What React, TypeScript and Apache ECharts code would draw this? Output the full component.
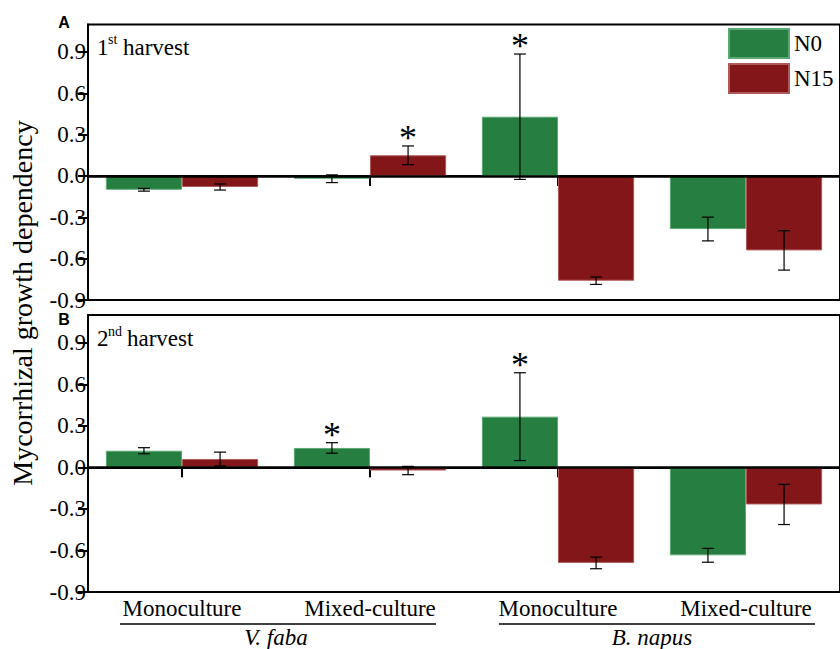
import React, { useEffect, useRef } from "react";
import * as echarts from "echarts";

const categories = ["Monoculture", "Mixed-culture", "Monoculture", "Mixed-culture"];
const species = ["V. faba", "B. napus"];
const yTicks = [-0.9, -0.6, -0.3, 0, 0.3, 0.6, 0.9];
const seriesNames = ["N0", "N15"];

// Panel A: 1st harvest
const A_N0 = [-0.1, -0.02, 0.43, -0.385];
const A_N0_err = [0.01, 0.028, 0.455, 0.086];
const A_N0_sig = [0, 0, 1, 0];
const A_N15 = [-0.08, 0.15, -0.76, -0.54];
const A_N15_err = [0.022, 0.068, 0.027, 0.143];
const A_N15_sig = [0, 1, 0, 0];

// Panel B: 2nd harvest
const B_N0 = [0.12, 0.14, 0.366, -0.635];
const B_N0_err = [0.022, 0.038, 0.317, 0.05];
const B_N0_sig = [0, 1, 1, 0];
const B_N15 = [0.06, -0.023, -0.69, -0.268];
const B_N15_err = [0.05, 0.03, 0.042, 0.145];
const B_N15_sig = [0, 0, 0, 0];

const GREEN = "#267f40";
const RED = "#821619";
const SERIF = "Liberation Serif";
const GAP = 0.19;

function errData(v0: number[], e0: number[], s0: number[], v1: number[], e1: number[], s1: number[]) {
  const out: number[][] = [];
  v0.forEach((v, i) => out.push([i, v, e0[i], s0[i], 0]));
  v1.forEach((v, i) => out.push([i, v, e1[i], s1[i], 1]));
  return out;
}

function renderErr(params: any, api: any) {
  const cat = api.value(0);
  const v = api.value(1);
  const e = api.value(2);
  const sig = api.value(3);
  const s = api.value(4);
  const c = api.coord([cat, v]);
  const band = api.size([1, 0])[0];
  const bw = (band * (1 - GAP)) / 2;
  const x = c[0] + (s === 0 ? -bw / 2 : bw / 2);
  const top = api.coord([cat, v + e])[1];
  const bot = api.coord([cat, v - e])[1];
  const cap = 6;
  const ls = { stroke: "#000", lineWidth: 1.2 };
  const children: any[] = [
    { type: "line", shape: { x1: x, y1: top, x2: x, y2: bot }, style: ls },
    { type: "line", shape: { x1: x - cap, y1: top, x2: x + cap, y2: top }, style: ls },
    { type: "line", shape: { x1: x - cap, y1: bot, x2: x + cap, y2: bot }, style: ls },
  ];
  if (sig) {
    children.push({
      type: "text",
      x: x,
      y: top - 26,
      style: {
        text: "*",
        fill: "#000",
        font: `36px "${SERIF}"`,
        align: "center",
        verticalAlign: "top",
      },
    });
  }
  return { type: "group", children };
}

function yAxisCfg(gridIndex: number) {
  return {
    type: "value",
    gridIndex,
    min: -0.9,
    max: 1.1,
    interval: 0.3,
    splitLine: { show: false },
    axisLine: { show: true, lineStyle: { color: "#000", width: 2 } },
    axisTick: { show: true, length: 10, lineStyle: { color: "#000", width: 2 }, customValues: yTicks },
    axisLabel: {
      formatter: (v: number) => (v > 1 ? "" : `{t|${v.toFixed(1)}}`),
      margin: 2,
      rich: {
        t: { color: "#000", fontSize: 23, fontFamily: SERIF },
      },
    },
  };
}

function barSeries(name: string, color: string, border: string, data: number[], idx: number, withLine: boolean) {
  const s: any = {
    name,
    type: "bar",
    xAxisIndex: idx,
    yAxisIndex: idx,
    data,
    barGap: "0%",
    barCategoryGap: `${GAP * 100}%`,
    itemStyle: { color, borderColor: border, borderWidth: 1 },
  };
  if (withLine) {
    s.markLine = {
      silent: true,
      symbol: ["none", "none"],
      label: { show: false },
      lineStyle: { color: "#000", width: 2.5, type: "solid" },
      data: [{ yAxis: 0 }],
    };
  }
  return s;
}

export default function App() {
  const ref = useRef<HTMLDivElement>(null);
  useEffect(() => {
    if (!ref.current) return;
    const chart = echarts.init(ref.current, null, { renderer: "svg" });
    const txt = (text: string, x: number, y: number, size: number, extra: any = {}) => ({
      type: "text",
      x,
      y,
      style: { text, fill: "#000", font: `${size}px "${SERIF}"`, verticalAlign: "middle", ...extra },
    });
    chart.setOption({
      animation: false,
      backgroundColor: "#fff",
      grid: [
        { left: 88, top: 24.4, width: 756, height: 275.6, show: true, borderColor: "#000", borderWidth: 2, backgroundColor: "transparent" },
        { left: 88, top: 315, width: 756, height: 279, show: true, borderColor: "#000", borderWidth: 2, backgroundColor: "transparent" },
      ],
      legend: {
        data: seriesNames,
        orient: "vertical",
        left: 728,
        top: 28,
        padding: 0,
        itemWidth: 60,
        itemHeight: 29,
        itemGap: 4,
        icon: "rect",
        textStyle: { color: "#000", fontSize: 23, fontFamily: SERIF },
      },
      xAxis: [
        {
          type: "category",
          gridIndex: 0,
          data: categories,
          axisLine: { lineStyle: { color: "#000", width: 2 } },
          axisTick: { show: true, alignWithLabel: true, length: 10, lineStyle: { color: "#000", width: 2 } },
          axisLabel: { show: false },
        },
        {
          type: "category",
          gridIndex: 1,
          data: categories,
          axisLine: { lineStyle: { color: "#000", width: 2 } },
          axisTick: { show: true, alignWithLabel: true, length: 10, lineStyle: { color: "#000", width: 2 } },
          axisLabel: { color: "#000", fontSize: 23, fontFamily: SERIF, margin: 5, interval: 0 },
        },
        {
          type: "category",
          gridIndex: 1,
          data: species,
          position: "bottom",
          offset: 26,
          axisLine: { show: false },
          axisTick: { show: false },
          axisLabel: { color: "#000", fontSize: 23, fontFamily: SERIF, fontStyle: "italic", margin: 8, interval: 0 },
        },
      ],
      yAxis: [yAxisCfg(0), yAxisCfg(1)],
      series: [
        barSeries("N0", GREEN, "#5aa874", A_N0, 0, true),
        barSeries("N15", RED, "#b0595b", A_N15, 0, false),
        barSeries("N0", GREEN, "#5aa874", B_N0, 1, true),
        barSeries("N15", RED, "#b0595b", B_N15, 1, false),
        {
          name: "errA",
          type: "custom",
          xAxisIndex: 0,
          yAxisIndex: 0,
          renderItem: renderErr,
          encode: { x: 0, y: 1 },
          data: errData(A_N0, A_N0_err, A_N0_sig, A_N15, A_N15_err, A_N15_sig),
          z: 5,
        },
        {
          name: "errB",
          type: "custom",
          xAxisIndex: 1,
          yAxisIndex: 1,
          renderItem: renderErr,
          encode: { x: 0, y: 1 },
          data: errData(B_N0, B_N0_err, B_N0_sig, B_N15, B_N15_err, B_N15_sig),
          z: 5,
        },
      ],
      graphic: [
        txt("1", 97, 47, 23),
        txt("st", 108, 39, 14),
        txt("harvest", 123, 47, 23),
        txt("2", 97, 338, 23),
        txt("nd", 108, 331, 14),
        txt("harvest", 127, 338, 23),
        {
          type: "text",
          x: 64,
          y: 22.5,
          style: { text: "A", fill: "#000", font: 'bold 16px "Liberation Sans"', align: "center", verticalAlign: "middle" },
        },
        {
          type: "text",
          x: 64,
          y: 319.5,
          style: { text: "B", fill: "#000", font: 'bold 16px "Liberation Sans"', align: "center", verticalAlign: "middle" },
        },
        {
          type: "text",
          x: 22,
          y: 303,
          rotation: Math.PI / 2,
          style: {
            text: "Mycorrhizal growth dependency",
            fill: "#000",
            font: `28px "${SERIF}"`,
            align: "center",
            verticalAlign: "middle",
          },
        },
        { type: "line", shape: { x1: 120, y1: 624, x2: 436, y2: 624 }, style: { stroke: "#000", lineWidth: 1.5 } },
        { type: "line", shape: { x1: 499, y1: 624, x2: 815, y2: 624 }, style: { stroke: "#000", lineWidth: 1.5 } },
      ],
    });
    return () => chart.dispose();
  }, []);
  return <div ref={ref} style={{ position: "fixed", left: 0, top: 0, width: 840, height: 649, background: "#fff" }} />;
}
